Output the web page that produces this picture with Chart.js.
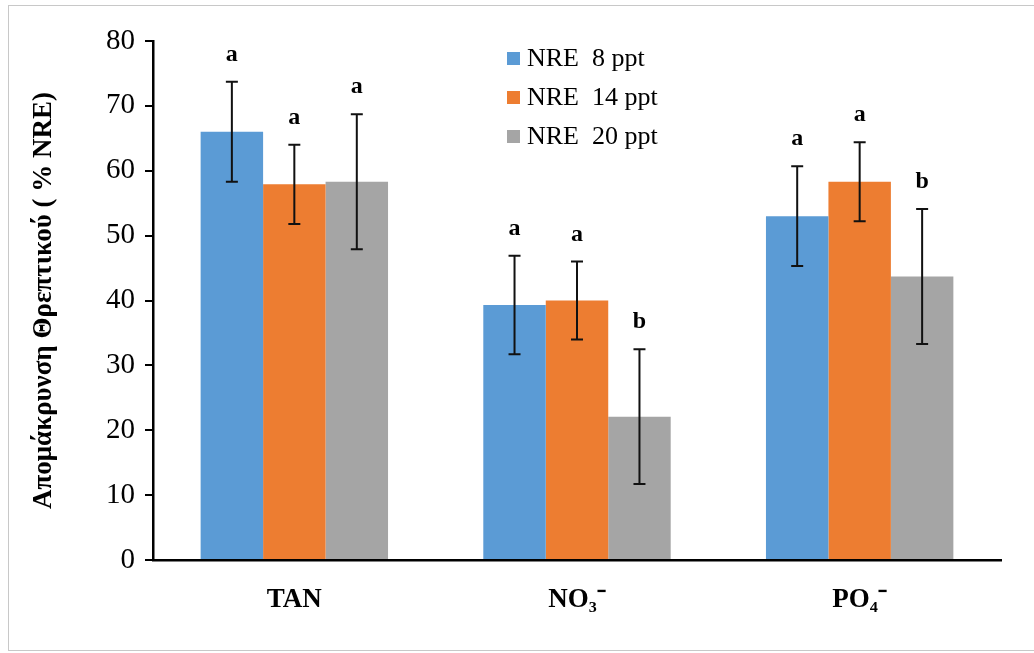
<!DOCTYPE html>
<html>
<head>
<meta charset="utf-8">
<script src="https://cdn.jsdelivr.net/npm/chart.js@4.4.1/dist/chart.umd.min.js"></script>
<style>
  html, body { margin: 0; padding: 0; background: #fff; }
  #wrap { position: relative; width: 1034px; height: 653px; overflow: hidden; }
  #frame { position: absolute; left: 8px; top: 5px; width: 1060px; height: 646px; border: 1px solid #c8c8c8; box-sizing: border-box; pointer-events: none; }
  canvas { position: absolute; left: 0; top: 0; }
</style>
</head>
<body>
<div id="wrap">
  <div id="frame"></div>
  <canvas id="chart" width="1034" height="653"></canvas>
</div>
<script>
// data
var categories = ["TAN", "NO\u2083\u207B", "PO\u2084\u207B"];
var seriesNames = ["NRE  8 ppt", "NRE  14 ppt", "NRE  20 ppt"];
var nre8 = [66.0, 39.3, 53.0];
var nre14 = [57.9, 40.0, 58.3];
var nre20 = [58.3, 22.1, 43.7];
var err8 = [7.7, 7.6, 7.7];
var err14 = [6.1, 6.0, 6.1];
var err20 = [10.4, 10.4, 10.4];
var letters8 = ["a", "a", "a"];
var letters14 = ["a", "a", "a"];
var letters20 = ["a", "b", "b"];
var yTicks = [0, 10, 20, 30, 40, 50, 60, 70, 80];

var colors = ["#5b9bd5", "#ed7d31", "#a5a5a5"];
var values = [nre8, nre14, nre20];
var errors = [err8, err14, err20];
var letters = [letters8, letters14, letters20];

var serif = "'Liberation Serif', 'Times New Roman', serif";

// error bars + significance letters
var errorBars = {
    id: "errorBars",
    afterDatasetsDraw: function (chart) {
        var ctx = chart.ctx;
        var y = chart.scales.y;
        ctx.save();
        chart.data.datasets.forEach(function (ds, i) {
            var meta = chart.getDatasetMeta(i);
            meta.data.forEach(function (bar, j) {
                var v = ds.data[j];
                var e = errors[i][j];
                var yt = y.getPixelForValue(v + e);
                var yb = y.getPixelForValue(v - e);
                ctx.strokeStyle = "#111";
                ctx.lineWidth = 2;
                ctx.beginPath();
                ctx.moveTo(bar.x, yt);
                ctx.lineTo(bar.x, yb);
                ctx.moveTo(bar.x - 6, yt);
                ctx.lineTo(bar.x + 6, yt);
                ctx.moveTo(bar.x - 6, yb);
                ctx.lineTo(bar.x + 6, yb);
                ctx.stroke();

                ctx.fillStyle = "#000";
                ctx.font = "bold 24px " + serif;
                ctx.textAlign = "center";
                ctx.textBaseline = "alphabetic";
                ctx.fillText(letters[i][j], bar.x, yt - 21);
            });
        });
        ctx.restore();
    }
};

// vertical legend inside the plot
var sideLegend = {
    id: "sideLegend",
    afterDraw: function (chart) {
        var ctx = chart.ctx;
        var x0 = 507, y0 = 58, step = 39;
        ctx.save();
        chart.data.datasets.forEach(function (ds, i) {
            var cy = y0 + i * step;
            ctx.fillStyle = ds.backgroundColor;
            ctx.fillRect(x0, cy - 6, 13, 13);
            ctx.fillStyle = "#000";
            ctx.font = "26px " + serif;
            ctx.textAlign = "left";
            ctx.textBaseline = "middle";
            ctx.fillText(ds.label, x0 + 20, cy + 1);
        });
        ctx.restore();
    }
};

var datasets = seriesNames.map(function (name, i) {
    return {
        label: name,
        data: values[i],
        backgroundColor: colors[i],
        borderWidth: 0,
        categoryPercentage: 0.663,
        barPercentage: 1.0
    };
});

var myChart = new Chart(document.getElementById("chart").getContext("2d"), {
    type: "bar",
    data: { labels: categories, datasets: datasets },
    plugins: [errorBars, sideLegend],
    options: {
        responsive: false,
        animation: false,
        layout: { padding: { top: 41, right: 33, left: 0, bottom: 0 } },
        plugins: {
            legend: { display: false },
            tooltip: { enabled: false }
        },
        scales: {
            x: {
                grid: { display: true, drawOnChartArea: false, drawTicks: false },
                border: { display: true, color: "#000", width: 2.5 },
                ticks: {
                    color: "#000",
                    padding: 24,
                    font: { family: serif, size: 27, weight: "bold" }
                },
                afterFit: function (scale) { scale.height = 93; }
            },
            y: {
                min: 0,
                max: 80,
                afterBuildTicks: function (scale) {
                    scale.ticks = yTicks.map(function (v) { return { value: v }; });
                },
                grid: { drawOnChartArea: false, drawTicks: true, tickLength: 8, color: "#000", lineWidth: 2 },
                border: { display: true, color: "#000", width: 2.5 },
                ticks: {
                    color: "#000",
                    padding: 10,
                    font: { family: serif, size: 29 }
                },
                title: {
                    display: true,
                    text: "\u0391\u03C0\u03BF\u03BC\u03AC\u03BA\u03C1\u03C5\u03BD\u03C3\u03B7 \u0398\u03C1\u03B5\u03C0\u03C4\u03B9\u03BA\u03BF\u03CD ( % NRE)",
                    color: "#000",
                    padding: { top: 28, bottom: 0 },
                    font: { family: serif, size: 27, weight: "bold" }
                },
                afterFit: function (scale) { scale.width = 153; }
            }
        }
    }
});
</script>
</body>
</html>
